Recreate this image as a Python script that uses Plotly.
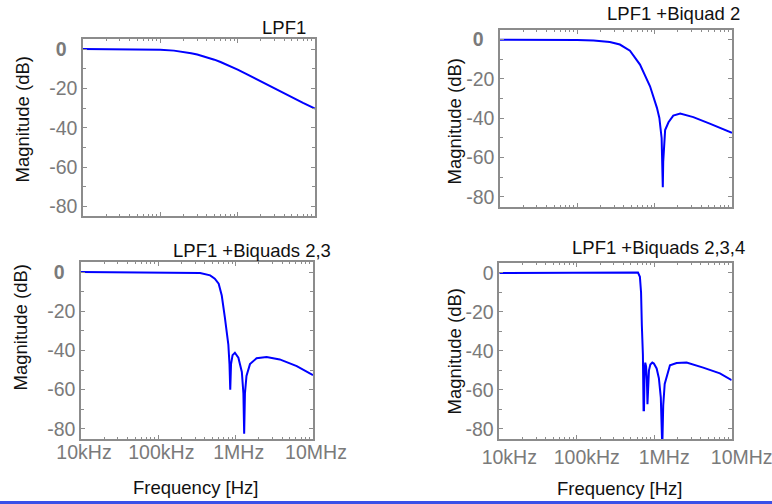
import plotly.graph_objects as go

# ---------------- data ----------------
f1 = [1e4, 5e4, 1e5, 1.5e5, 2e5, 2.5e5, 3e5, 4e5, 5e5, 6e5, 7e5, 8.5e5, 1e6, 1.25e6,
      1.5e6, 2e6, 3e6, 4e6, 5e6, 7e6, 1e7]
db1 = [0, -0.05, -0.3, -0.8, -1.4, -2.1, -2.8, -4.2, -5.4, -6.6, -7.7, -9.2, -10.5, -12.4,
       -14, -16.6, -20.2, -22.6, -24.5, -27.3, -30.2]

f2 = [1e4, 6.0e4, 1e5, 1.62e5, 2.63e5, 3.55e5, 4.79e5, 6.46e5, 8.71e5, 1.07e6, 1.15e6,
      1.23e6, 1.26e6, 1.274e6, 1.29e6, 1.33e6, 1.365e6, 1.51e6, 1.74e6, 2.14e6, 3.16e6, 5.25e6, 1e7]
db2 = [0, 0, -0.2, -0.5, -1.2, -2.5, -5.6, -12.7, -23.7, -34.7, -39.8,
       -50, -64, -75, -62, -50, -46, -42, -38.6, -37.6, -39.4, -42.8, -47.4]

f3 = [1e4, 1e5, 1.9e5, 3.47e5, 4.68e5, 5.37e5, 6.03e5, 6.61e5, 7.24e5, 8.04e5, 8.32e5,
      8.51e5, 8.71e5, 9.12e5, 9.77e5, 1.084e6, 1.202e6, 1.259e6, 1.288e6, 1.318e6, 1.38e6,
      1.531e6, 1.862e6, 2.512e6, 3.715e6, 6.166e6, 1e7]
db3 = [0, -0.1, -0.2, -0.5, -1.7, -3.4, -6, -12, -23, -37, -47,
       -60, -47, -42.4, -41.2, -43.7, -51, -62, -82.5, -62, -53,
       -47, -44, -43.4, -44.6, -48, -52.6]

f4 = [1e4, 1e5, 2.69e5, 5.01e5, 6.17e5, 6.53e5, 6.76e5, 6.92e5, 7.14e5, 7.28e5, 7.38e5,
      7.52e5, 7.66e5, 7.85e5, 8.04e5, 8.18e5, 8.32e5, 8.55e5, 8.91e5, 9.44e5, 9.89e5,
      1.074e6, 1.148e6, 1.216e6, 1.27e6, 1.306e6, 1.365e6, 1.496e6, 1.596e6, 1.945e6,
      2.618e6, 4.285e6, 7.047e6, 1e7]
db4 = [0, 0, 0, 0.2, 0.2, -2, -10, -27, -42, -70.4, -70.4,
       -50, -46, -48, -55, -67.3, -58, -50, -47, -46, -46.5,
       -49, -54, -64, -90, -68, -57, -50.6, -47.4, -46.2,
       -46, -48.6, -51.5, -55]

titles = ["LPF1", "LPF1 +Biquad 2", "LPF1 +Biquads 2,3", "LPF1 +Biquads 2,3,4"]
xtick_vals = [1e4, 1e5, 1e6, 1e7]
xtick_text = ["10kHz", "100kHz", "1MHz", "10MHz"]
ytick_vals = [0, -20, -40, -60, -80]
ytick_text_bold = ["<b>0</b>\u2007", "-20", "-40", "-60", "-80"]
ytick_text_plain = ["0", "-20", "-40", "-60", "-80"]
ylabel = "Magnitude (dB)"
xlabel = "Frequency [Hz]"

W, H = 772, 504
FONT = "Arial, Liberation Sans, sans-serif"
GRAY = "#7a7a7a"
FRAME = "#8c8c8c"
TXT = 18.5
TICK = 19.5

# plot frames in pixels: (left, right, top, bottom)
frames = [(83, 315, 39, 216), (500, 732, 30, 207), (81, 313, 262, 439), (499.3, 731.7, 263, 439)]
yranges = [[-84.8, 5.1], [-85.1, 4.9], [-85.2, 5.1], [-85.2, 5.1]]

series = [(f1, db1), (f2, db2), (f3, db3), (f4, db4)]

fig = go.Figure()
for i, (f, d) in enumerate(series):
    sfx = "" if i == 0 else str(i + 1)
    fig.add_trace(go.Scatter(x=f, y=d, mode="lines", line=dict(color="#0000ff", width=2),
                             xaxis="x" + sfx, yaxis="y" + sfx, showlegend=False, hoverinfo="skip"))

for i, (l, r, t, b) in enumerate(frames):
    sfx = "" if i == 0 else str(i + 1)
    bottom_row = i >= 2
    xa = dict(
        type="log", range=[4, 7], domain=[l / W, r / W], anchor="y" + sfx, automargin=False,
        showline=True, linecolor=FRAME, linewidth=1.5, mirror="allticks",
        ticks="inside", ticklen=4, tickcolor=FRAME, tickwidth=1,
        tickvals=xtick_vals, ticktext=xtick_text, showticklabels=bottom_row,
        tickfont=dict(family=FONT, size=TICK, color=GRAY),
        ticklabelstandoff=-5 if i == 2 else 0,
        ticklabelshift=3 if i == 2 else 10,
        ticklabeloverflow="allow",
        showgrid=False, zeroline=False,
        minor=dict(ticks="inside", ticklen=2, tickcolor=FRAME, dtick="D1", showgrid=False),
    )
    ya = dict(
        range=yranges[i], domain=[1 - b / H, 1 - t / H], anchor="x" + sfx, automargin=False,
        showline=True, linecolor=FRAME, linewidth=1.5, mirror="allticks",
        ticks="inside", ticklen=4, tickcolor=FRAME, tickwidth=1,
        tickvals=ytick_vals, ticktext=ytick_text_plain if i == 3 else ytick_text_bold,
        tickfont=dict(family=FONT, size=TICK, color=GRAY),
        ticklabelstandoff=0,
        showgrid=False, zeroline=False,
        minor=dict(ticks="inside", ticklen=3, tickcolor=FRAME, tick0=0, dtick=10, showgrid=False),
    )
    fig.layout["xaxis" + sfx] = xa
    fig.layout["yaxis" + sfx] = ya

annotations = []
# subplot titles (right aligned)
title_pos = [(308, 27), (742, 13), (333, 250), (747, 247)]
for txt, (x, y) in zip(titles, title_pos):
    annotations.append(dict(text=txt, x=x / W, y=1 - y / H, xref="paper", yref="paper",
                            xanchor="right", yanchor="middle", showarrow=False,
                            font=dict(family=FONT, size=TXT, color="#111111")))
# y-axis labels
ylab_pos = [(22, 119.5), (454, 121.5), (20, 327.5), (454, 351.5)]
for (x, y) in ylab_pos:
    annotations.append(dict(text=ylabel, x=x / W, y=1 - y / H, xref="paper", yref="paper",
                            xanchor="center", yanchor="middle", textangle=-90, showarrow=False,
                            font=dict(family=FONT, size=TXT, color="#111111")))
# x-axis labels
xlab_pos = [(195, 487), (619, 488)]
for (x, y) in xlab_pos:
    annotations.append(dict(text=xlabel, x=x / W, y=1 - y / H, xref="paper", yref="paper",
                            xanchor="center", yanchor="middle", showarrow=False,
                            font=dict(family=FONT, size=TXT, color="#111111")))

fig.update_layout(
    width=W, height=H, margin=dict(l=0, r=0, t=0, b=0, autoexpand=False),
    paper_bgcolor="white", plot_bgcolor="white",
    annotations=annotations,
    shapes=[dict(type="line", xref="paper", yref="paper", x0=0, x1=1,
                 y0=1.5 / H, y1=1.5 / H, line=dict(color="#3a50e8", width=3))],
)

fig.write_html("out.html", config={"displayModeBar": False})
